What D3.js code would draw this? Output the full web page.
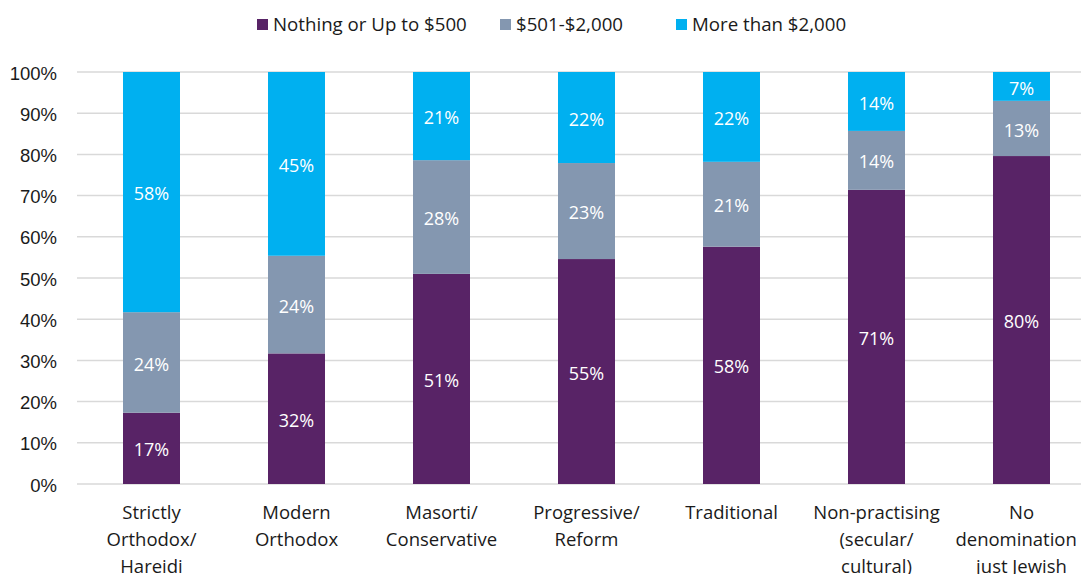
<!DOCTYPE html>
<html>
<head>
<meta charset="utf-8">
<script src="https://cdn.jsdelivr.net/npm/d3@7"></script>
<style>
  html, body { margin: 0; padding: 0; background: #fff; overflow: hidden; }
  svg { display: block; font-family: "Open Sans", sans-serif; }
  .grid line { stroke: #d9d9d9; stroke-width: 1.5; }
  .y-axis text { fill: #1a1a1a; font-size: 18.5px; }
  .cat text { fill: #1a1a1a; font-size: 18.5px; }
  .seg-label { fill: #fff; font-size: 18px; }
  .legend text { fill: #1a1a1a; font-size: 18.7px; }
</style>
</head>
<body>
<div id="chart"></div>
<script>
// categories, each one split into label lines
var categories = ["Strictly Orthodox/ Hareidi", "Modern Orthodox", "Masorti/ Conservative",
                  "Progressive/ Reform", "Traditional", "Non-practising (secular/ cultural)",
                  "No denomination - just Jewish"];
var categoryLines = [
    ["Strictly", "Orthodox/", "Hareidi"],
    ["Modern", "Orthodox"],
    ["Masorti/", "Conservative"],
    ["Progressive/", "Reform"],
    ["Traditional"],
    ["Non-practising", "(secular/", "cultural)"],
    ["No", "denomination -", "just Jewish"]
];
var seriesNames = ["Nothing or Up to $500", "$501-$2,000", "More than $2,000"];
var seriesColors = ["#582366", "#8497b0", "#00b0f0"];

// shares in percent
var upTo500 = [17.3, 31.7, 51.0, 54.6, 57.6, 71.4, 79.6];
var from501To2000 = [24.4, 23.7, 27.6, 23.3, 20.6, 14.3, 13.4];
var moreThan2000 = [58.3, 44.6, 21.4, 22.1, 21.8, 14.3, 7.0];

var yTicks = [0, 10, 20, 30, 40, 50, 60, 70, 80, 90, 100];

var width = 1081, height = 574;
var margin = {top: 72, left: 79, bottom: 90};
var plotRight = 1094; // plot runs off the right edge in the original

var data = categories.map(function(c, i) {
    return {cat: c, s0: upTo500[i], s1: from501To2000[i], s2: moreThan2000[i]};
});
var keys = ["s0", "s1", "s2"];
var stacked = d3.stack().keys(keys)(data);

var svg = d3.select("#chart").append("svg")
    .attr("width", width)
    .attr("height", height);

var x = d3.scaleBand()
    .domain(categories)
    .range([margin.left, plotRight])
    .paddingInner(0.607)
    .paddingOuter(0.3035);

var y = d3.scaleLinear()
    .domain([0, 100])
    .range([height - margin.bottom, margin.top]);

// gridlines
svg.append("g").attr("class", "grid")
    .selectAll("line")
    .data(yTicks)
    .enter().append("line")
    .attr("x1", margin.left - 2)
    .attr("x2", plotRight)
    .attr("y1", function(d) { return y(d); })
    .attr("y2", function(d) { return y(d); });

// y axis labels
var yAxis = d3.axisLeft(y).tickValues(yTicks)
    .tickFormat(function(d) { return d + "%"; })
    .tickSize(0).tickPadding(0);
var yg = svg.append("g").attr("class", "y-axis")
    .attr("transform", "translate(57,0)")
    .call(yAxis);
yg.select(".domain").remove();
yg.selectAll("text").attr("font-family", null).attr("font-size", null).attr("dy", "0.38em");

// bars
var layers = svg.selectAll(".layer")
    .data(stacked)
    .enter().append("g")
    .attr("class", "layer")
    .attr("fill", function(d, i) { return seriesColors[i]; });

layers.selectAll("rect")
    .data(function(d) { return d; })
    .enter().append("rect")
    .attr("x", function(d) { return x(d.data.cat); })
    .attr("width", x.bandwidth())
    .attr("y", function(d) { return y(d[1]); })
    .attr("height", function(d) { return y(d[0]) - y(d[1]); });

layers.selectAll("text")
    .data(function(d) { return d; })
    .enter().append("text")
    .attr("class", "seg-label")
    .attr("text-anchor", "middle")
    .attr("dy", "0.45em")
    .attr("x", function(d) { return x(d.data.cat) + x.bandwidth() / 2; })
    .attr("y", function(d) { return (y(d[0]) + y(d[1])) / 2; })
    .text(function(d) { return Math.round(d[1] - d[0]) + "%"; });

// category labels
var cat = svg.append("g").attr("class", "cat");
cat.selectAll("text")
    .data(categories)
    .enter().append("text")
    .attr("text-anchor", "middle")
    .attr("x", function(d) { return x(d) + x.bandwidth() / 2; })
    .attr("y", 519)
    .each(function(d, i) {
        var t = d3.select(this);
        categoryLines[i].forEach(function(line, j) {
            t.append("tspan")
                .attr("x", x(d) + x.bandwidth() / 2)
                .attr("dy", j === 0 ? 0 : 27)
                .text(line);
        });
    });

// legend
var legendX = [257, 500, 676];
var legend = svg.append("g").attr("class", "legend")
    .selectAll("g")
    .data(seriesNames)
    .enter().append("g")
    .attr("transform", function(d, i) { return "translate(" + legendX[i] + ",19)"; });
legend.append("rect")
    .attr("width", 11).attr("height", 11)
    .attr("fill", function(d, i) { return seriesColors[i]; });
legend.append("text")
    .attr("x", 16).attr("y", 12)
    .text(function(d) { return d; });
</script>
</body>
</html>
